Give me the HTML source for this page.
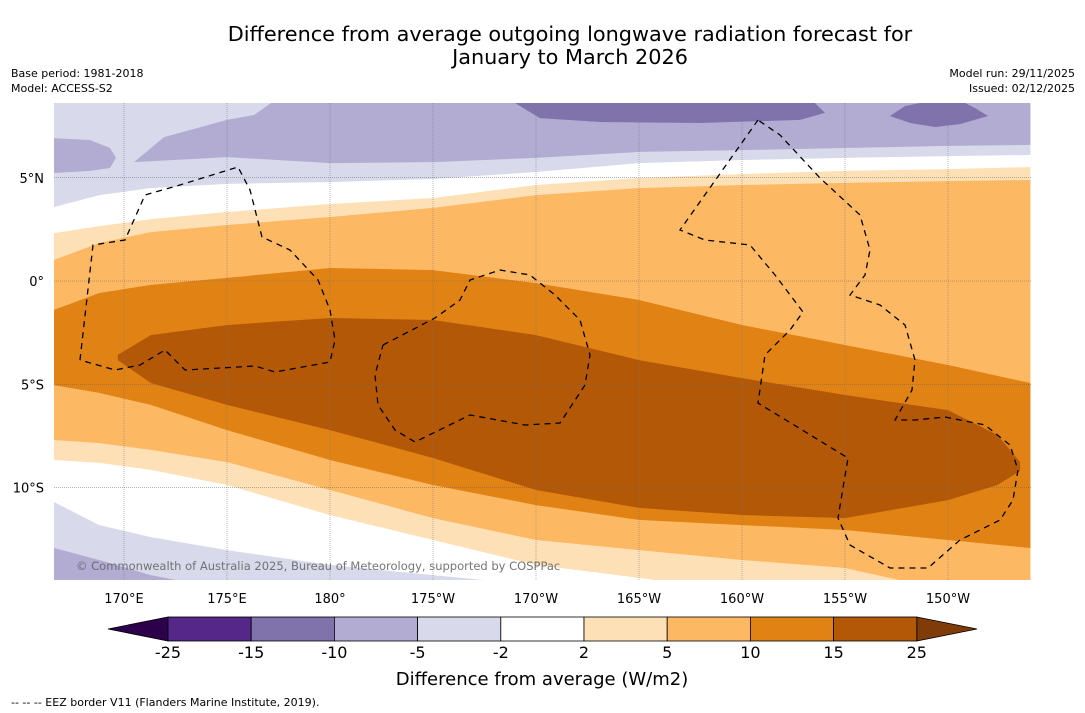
<!DOCTYPE html>
<html><head><meta charset="utf-8">
<style>
body{margin:0;background:#fff;}
svg{display:block;font-family:"DejaVu Sans","Liberation Sans",sans-serif;}
</style></head>
<body>
<svg id="chart" width="1085" height="713" viewBox="0 0 1085 713">
<text x="570" y="41" font-size="20.8" text-anchor="middle">Difference from average outgoing longwave radiation forecast for</text>
<text x="570" y="64" font-size="20.8" text-anchor="middle">January to March 2026</text>
<text x="11" y="77" font-size="11">Base period: 1981-2018</text>
<text x="11" y="92" font-size="11">Model: ACCESS-S2</text>
<text x="1075" y="77" font-size="11" text-anchor="end">Model run: 29/11/2025</text>
<text x="1075" y="92" font-size="11" text-anchor="end">Issued: 02/12/2025</text>
<defs><clipPath id="mapclip"><rect x="54" y="103" width="977" height="477"/></clipPath></defs>
<g id="map" clip-path="url(#mapclip)"></g>
<g id="overlay"></g>
<g id="cbar"></g>
<text x="542" y="685" font-size="18" text-anchor="middle">Difference from average (W/m2)</text>
<text x="11" y="706" font-size="11">--  --  -- EEZ border V11 (Flanders Marine Institute, 2019).</text>
</svg>
<script>
// ---- data ----
const lons = [166.6, 168.8, 171.3, 175, 180, 185, 190, 195, 200, 205, 210, 214];
const posU2 = [2.32, 2.66, 3.00, 3.34, 3.73, 4.02, 4.65, 4.99, 5.18, 5.33, 5.42, 5.52];
const posU5 = [1.02, 1.84, 2.37, 2.71, 3.10, 3.54, 4.16, 4.50, 4.65, 4.75, 4.84, 4.89];
const posU10 = [-1.40, -0.58, -0.19, 0.15, 0.63, 0.53, -0.10, -0.92, -2.13, -3.10, -4.07, -4.94];
const posL10 = [-5.04, -5.42, -6.00, -7.22, -8.67, -9.88, -10.85, -11.57, -11.82, -12.06, -12.54, -12.93];
const posL5 = [-7.70, -7.85, -8.18, -8.77, -10.12, -11.48, -12.54, -13.03, -13.51, -13.9, -15, -15];
const posL2 = [-8.67, -8.81, -9.15, -9.88, -11.33, -12.54, -13.75, -14.38, -15, -15, -15, -15];
const negN2 = [3.58, 4.16, 4.50, 4.70, 4.79, 4.94, 5.28, 5.71, 5.86, 5.96, 6.05, 6.10];
const botN2 = [-10.70, -11.82, -12.40, -13.03, -13.75, -14.24, -14.72, -15, -15, -15, -15, -15];
const botN5 = [-12.93, -13.51, -14.24, -14.96, -15, -15, -15, -15, -15, -15, -15, -15];
const blobLons = [169.7, 171.3, 175, 180, 185, 190, 195, 200, 205, 210, 212.4, 213.5];
const blobUpper = [-3.58, -2.62, -2.13, -1.79, -1.89, -2.62, -3.83, -4.70, -5.52, -6.25, -7.46, -8.77];
const blobLower = [-3.83, -4.94, -6.00, -7.22, -8.57, -10.12, -10.99, -11.33, -11.48, -10.61, -9.88, -9.20];
const med5Lons = [170.49, 171.94, 175.0, 176.31, 177.14, 214, 214, 210, 205, 200, 195, 190, 185, 180, 175, 170.49];
const med5Lats = [5.76, 6.97, 7.80, 8.04, 8.62, 8.62, 6.59, 6.54, 6.44, 6.34, 6.25, 5.96, 5.76, 5.71, 6.00, 5.76];
const patchLons = [166.6, 168.35, 169.32, 169.61, 169.32, 168.35, 166.6];
const patchLats = [6.92, 6.83, 6.44, 5.96, 5.47, 5.33, 5.23];
const dark1Lons = [188.98, 190.19, 193.11, 197.96, 202.82, 204.03, 203.54];
const dark1Lats = [8.62, 7.89, 7.70, 7.65, 7.80, 8.14, 8.62];
const dark2Lons = [207.18, 207.91, 208.64, 210.83, 211.31, 211.94, 210.58, 209.37, 208.16];
const dark2Lats = [7.99, 8.47, 8.62, 8.62, 8.38, 7.99, 7.60, 7.46, 7.65];
const lonTicks = [170, 175, 180, 185, 190, 195, 200, 205, 210];
const lonTickLabels = ["170°E","175°E","180°","175°W","170°W","165°W","160°W","155°W","150°W"];
const latTicks = [5, 0, -5, -10];
const latTickLabels = ["5°N","0°","5°S","10°S"];
const cbarLevels = ["-25","-15","-10","-5","-2","2","5","10","15","25"];
const cbarColors = ["#542788","#8073ac","#b2abd2","#d8daeb","#ffffff","#fee0b6","#fdb863","#e08214","#b35806"];
// ---- axes ----
const X = lon => 124 + (lon - 170) * 20.6;
const Y = lat => 281 - lat * 20.65;
const NS = "http://www.w3.org/2000/svg";
const mapG = document.getElementById('map');
const ovG = document.getElementById('overlay');
const cbG = document.getElementById('cbar');
function mk(tag, attrs, parent){const e=document.createElementNS(NS,tag);for(const k in attrs)e.setAttribute(k,attrs[k]);parent.appendChild(e);return e;}
function ptsOf(ls, as){return ls.map((l,i)=>X(l).toFixed(1)+','+Y(as[i]).toFixed(1));}
function band(upper, lower, fill, name){
  const p = ptsOf(lons, upper).concat(ptsOf(lons.slice().reverse(), lower.slice().reverse()));
  const e = mk('polygon',{points:p.join(' '),fill:fill},mapG);
  
  
}
function poly(ls, as, fill, name){
  const e = mk('polygon',{points:ptsOf(ls,as).join(' '),fill:fill},mapG);
  
  
}
const topEdge = lons.map(()=>9), bottomEdge = lons.map(()=>-16);
mk('rect',{x:54,y:103,width:977,height:477,fill:'#fff'},mapG);
band(topEdge, negN2, '#d8daeb', 'band-neg-2-to-5');
poly(med5Lons, med5Lats, '#b2abd2', 'band-neg-5-to-10');
poly(patchLons, patchLats, '#b2abd2', 'band-neg-5-to-10-west');
poly(dark1Lons, dark1Lats, '#8073ac', 'band-neg-10-to-15-a');
poly(dark2Lons, dark2Lats, '#8073ac', 'band-neg-10-to-15-b');
band(posU2, posL2, '#fee0b6', 'band-pos-2-to-5');
band(posU5, posL5, '#fdb863', 'band-pos-5-to-10');
band(posU10, posL10, '#e08214', 'band-pos-10-to-15');
poly(blobLons.concat(blobLons.slice().reverse()), blobUpper.concat(blobLower.slice().reverse()), '#b35806', 'band-pos-15-to-25');
band(botN2, bottomEdge, '#d8daeb', 'band-neg-2-to-5-south');
band(botN5, bottomEdge, '#b2abd2', 'band-neg-5-to-10-south');
// grid
lonTicks.forEach((l,i)=>{
  const g = mk('line',{x1:X(l),x2:X(l),y1:103,y2:580,stroke:'#777','stroke-width':0.5,'stroke-dasharray':'1,1'},ovG);
  
  
  const t = mk('text',{x:X(l),y:603,'font-size':13,'text-anchor':'middle'},ovG);
  t.textContent = lonTickLabels[i];
  
  
});
latTicks.forEach((l,i)=>{
  const g = mk('line',{x1:54,x2:1031,y1:Y(l),y2:Y(l),stroke:'#666','stroke-width':0.6,'stroke-dasharray':'1,1'},ovG);
  
  
  const t = mk('text',{x:44,y:Y(l)+5,'font-size':13,'text-anchor':'end'},ovG);
  t.textContent = latTickLabels[i];
  
  
});
// EEZ borders
const eez = [
 "80,360 93,245 125,240 145,195 180,185 238,167 250,190 262,237 290,250 318,280 330,310 335,340 330,362 275,372 255,366 185,370 165,350 140,365 115,370 80,360",
 "383,345 435,318 460,300 470,280 500,270 530,275 555,295 580,320 590,355 585,385 560,423 525,425 470,415 415,442 395,430 378,405 375,375 383,345",
 "758,120 680,230 705,240 750,245 775,275 803,312 790,330 765,355 758,403 848,458 838,518 850,545 890,568 928,568 960,540 1000,520 1013,500 1018,470 1010,445 985,425 945,417 915,420 895,420 912,390 915,360 905,325 880,305 850,295 865,275 870,250 860,215 820,178 780,135 758,120"
];
eez.forEach(p=>{
  const e = mk('polyline',{points:p,fill:'none',stroke:'#000','stroke-width':1.3,'stroke-dasharray':'6,5'},ovG);
  
  
});
const cp = mk('text',{x:76,y:570,'font-size':11.5,fill:'#666','fill-opacity':0.9},ovG);
cp.textContent = '© Commonwealth of Australia 2025, Bureau of Meteorology, supported by COSPPac';


// colorbar
const cx0 = 168, cw = 83.2, cy = 617, ch = 24;
const lt = mk('polygon',{points:`108,629 ${cx0},${cy} ${cx0},${cy+ch}`,fill:'#2d004b',stroke:'#000','stroke-width':0.8},cbG);


const rt = mk('polygon',{points:`${cx0+9*cw},${cy} 977,629 ${cx0+9*cw},${cy+ch}`,fill:'#7f3b08',stroke:'#000','stroke-width':0.8},cbG);


cbarColors.forEach((c,i)=>{
  const r = mk('rect',{x:cx0+i*cw,y:cy,width:cw,height:ch,fill:c,stroke:'#000','stroke-width':0.8},cbG);
  
  
});
cbarLevels.forEach((l,i)=>{
  const t = mk('text',{x:cx0+i*cw,y:658,'font-size':16,'text-anchor':'middle'},cbG);
  t.textContent = l;
  
  
});
</script>
</body></html>
